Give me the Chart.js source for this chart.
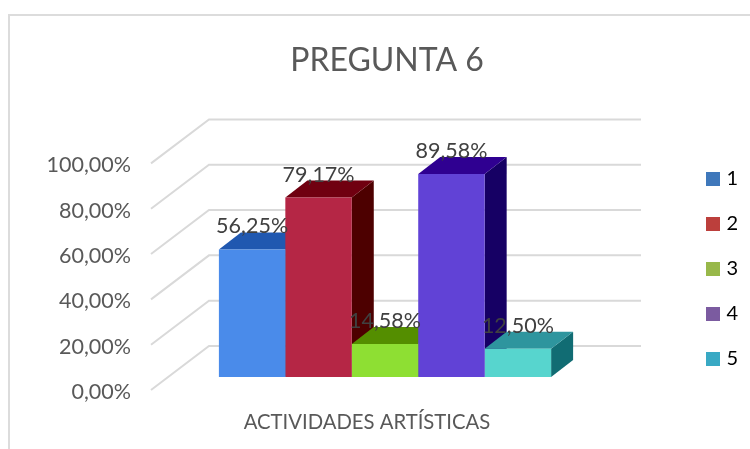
<!DOCTYPE html>
<html><head><meta charset="utf-8">
<style>
html,body{margin:0;padding:0;background:#fff;overflow:hidden}
#frame{position:absolute;left:8px;top:14px;right:0;bottom:0;border-left:2px solid #dcdcdc;border-top:2px solid #dcdcdc}
canvas{position:absolute;left:0;top:0}
</style>
<script src="https://cdn.jsdelivr.net/npm/chart.js@4"></script>
</head><body>
<div id="frame"></div>
<canvas id="c" width="750" height="449"></canvas>
<script>
const titleText = 'PREGUNTA 6';
const categories = ['ACTIVIDADES ARTÍSTICAS'];
const seriesNames = ['1', '2', '3', '4', '5'];
const seriesValues = [56.25, 79.17, 14.58, 89.58, 12.50];
const frontColors = ['#4a8bea', '#b52645', '#8edf33', '#6142d6', '#57d5ce'];
const topColors = ['#2058b0', '#700010', '#548e00', '#2f0091', '#2e959e'];
const sideColors = ['#11306b', '#4d0000', '#355a00', '#160064', '#116c73'];
const legendColors = ['#3f78bb', '#bc3f3c', '#98b84a', '#7b5ba0', '#39a9c4'];

const FONT = 'Lato';
const TEXT = '#595959';
const LIFT = 2;                   // tick text sits this far below its gridline start
const WALL = {dx: 58, dy: -44};   // side wall depth
const PLANE = {dx: 18, dy: -15};  // plane where the bars stand
const BAR = {dx: 22, dy: -17};    // depth of one bar
const fmt = v => v.toFixed(2).replace('.', ',') + '%';

function poly(ctx, pts, color) {
  ctx.fillStyle = color;
  ctx.beginPath();
  pts.forEach((p, i) => i ? ctx.lineTo(p[0], p[1]) : ctx.moveTo(p[0], p[1]));
  ctx.closePath();
  ctx.fill();
}

const threeD = {
  id: 'threeD',
  beforeLayout(chart) {
    const l = chart.legend;
    if (!l._wrapped) {
      const fit = l.fit;
      l.fit = function () { fit.call(this); this.width = 167; };
      l._wrapped = true;
    }
  },
  afterLayout(chart) {
    chart.titleBlock.left += 12;
    chart.titleBlock.right += 12;
    const l = chart.legend;
    l.left = 681; l.right = 738; l.width = 57;
    l.top = 144; l.bottom = 449; l.height = 305;
  },
  beforeDatasetsDraw(chart) {
    const {ctx, chartArea: a, scales: {y}} = chart;
    ctx.save();
    ctx.strokeStyle = '#d9d9d9';
    ctx.lineWidth = 2;
    y.ticks.forEach(t => {
      const py = y.getPixelForValue(t.value) - LIFT;
      ctx.beginPath();
      ctx.moveTo(a.left, py);
      ctx.lineTo(a.left + WALL.dx, py + WALL.dy);
      ctx.lineTo(a.right + WALL.dx, py + WALL.dy);
      ctx.stroke();
    });
    ctx.translate(PLANE.dx, PLANE.dy);
    seriesValues.forEach((v, i) => {
      const el = chart.getDatasetMeta(i).data[0];
      const l = el.x - el.width / 2, r = el.x + el.width / 2;
      poly(ctx, [[r, el.y], [r + BAR.dx, el.y + BAR.dy], [r + BAR.dx, el.base + BAR.dy], [r, el.base]], sideColors[i]);
      poly(ctx, [[l, el.y], [l + BAR.dx, el.y + BAR.dy], [r + BAR.dx, el.y + BAR.dy], [r, el.y]], topColors[i]);
    });
    ctx.restore();
  },
  beforeDatasetDraw(chart) {
    chart.ctx.save();
    chart.ctx.translate(PLANE.dx, PLANE.dy);
  },
  afterDatasetDraw(chart) {
    chart.ctx.restore();
  },
  afterDatasetsDraw(chart) {
    const {ctx} = chart;
    ctx.save();
    ctx.font = '21.5px ' + FONT;
    ctx.fillStyle = '#404040';
    ctx.textAlign = 'center';
    ctx.textBaseline = 'middle';
    seriesValues.forEach((v, i) => {
      const el = chart.getDatasetMeta(i).data[0];
      ctx.fillText(fmt(v), el.x + PLANE.dx, el.y + PLANE.dy - 23);
    });
    ctx.restore();
  }
};

new Chart(document.getElementById('c'), {
  type: 'bar',
  data: {
    labels: categories,
    datasets: seriesNames.map((name, i) => ({
      label: name,
      data: [seriesValues[i]],
      backgroundColor: frontColors[i],
      clip: false
    }))
  },
  options: {
    responsive: false,
    animation: false,
    devicePixelRatio: 1,
    categoryPercentage: 0.769,
    barPercentage: 1,
    layout: {padding: 0},
    plugins: {
      tooltip: {enabled: false},
      title: {
        display: true,
        text: titleText,
        color: TEXT,
        font: {family: FONT, size: 32, weight: 'normal', lineHeight: 1.2},
        padding: {top: 41, bottom: 86}
      },
      legend: {
        position: 'right',
        align: 'start',
        labels: {
          boxWidth: 14,
          boxHeight: 14,
          padding: 25,
          color: TEXT,
          textAlign: 'right',
          font: {family: FONT, size: 20},
          generateLabels: () => seriesNames.map((name, i) => ({
            text: name, fillStyle: legendColors[i], strokeStyle: legendColors[i],
            lineWidth: 0, datasetIndex: i
          }))
        }
      }
    },
    scales: {
      x: {
        grid: {display: false},
        border: {display: false},
        ticks: {color: TEXT, padding: 10, font: {family: FONT, size: 20.3}},
        afterFit(s) { s.height = 57; }
      },
      y: {
        min: 0,
        max: 100,
        grid: {display: false},
        border: {display: false},
        ticks: {
          stepSize: 20,
          color: TEXT,
          padding: 12,
          font: {family: FONT, size: 21.5},
          callback: v => fmt(v)
        },
        afterFit(s) { s.width = 151; }
      }
    }
  },
  plugins: [threeD]
});
</script>
</body></html>
